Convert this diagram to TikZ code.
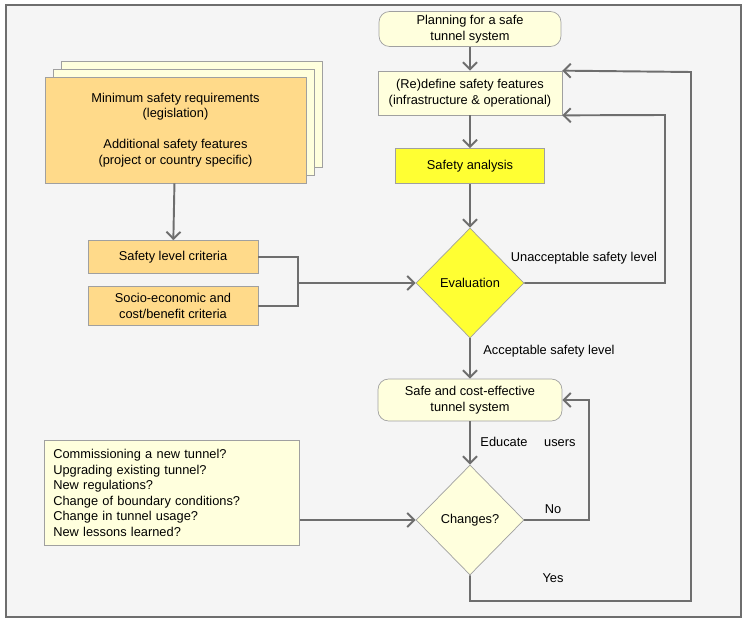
\documentclass[tikz,border=0pt]{standalone}
\usepackage{fontspec}
\setmainfont{Liberation Sans}
\usetikzlibrary{shapes.geometric,arrows.meta}
\definecolor{paleyel}{HTML}{FFFFDD}
\definecolor{brightyel}{HTML}{FFFF33}
\definecolor{softorange}{HTML}{FFDA8A}
\definecolor{edgegray}{HTML}{A0A0A0}
\definecolor{linegray}{HTML}{6E6E6E}
\tikzset{
  box/.style={draw=edgegray, fill=#1, inner sep=0pt, align=center,
    font=\fontsize{7.3}{8.8}\selectfont},
  decide/.style={draw=edgegray, fill=#1, diamond, aspect=1, inner sep=0pt,
    minimum width=2.16cm, minimum height=2.2cm, font=\fontsize{7.3}{8.8}\selectfont},
  flow/.style={draw=linegray, line width=1.1pt, -{Straight Barb[length=4pt,width=8pt]}},
  link/.style={draw=linegray, line width=1.1pt},
  lbl/.style={font=\fontsize{7.3}{8.8}\selectfont}
}
\begin{document}
\begin{tikzpicture}[x=0.02cm,y=-0.02cm]
\useasboundingbox (0,0) rectangle (745,628);
\draw[linegray, fill=black!4, line width=0.8pt] (6,5) rectangle (741,617);
% right column
\node[box=paleyel, rounded corners=6pt, minimum width=3.64cm, minimum height=0.7cm] (plan) at (470,29) {Planning for a safe\\tunnel system};
\node[box=paleyel, minimum width=3.68cm, minimum height=0.88cm] (redef) at (470,93) {(Re)define safety features\\(infrastructure \& operational)};
\node[box=brightyel, minimum width=2.98cm, minimum height=0.7cm] (anal) at (470,166) {Safety analysis};
\node[decide=brightyel] (eval) at (470,283) {Evaluation};
\node[box=paleyel, rounded corners=6pt, minimum width=3.68cm, minimum height=0.84cm] (safe) at (470,400) {Safe and cost-effective\\tunnel system};
\node[decide=paleyel] (chg) at (470,520) {Changes?};
% left column
\foreach \d in {2,1}
  \draw[edgegray, fill=paleyel] (45+8*\d,77-8*\d) rectangle (306+8*\d,183-8*\d);
\node[box=softorange, minimum width=5.22cm, minimum height=2.12cm] (reqs) at (175.5,130) {Minimum safety requirements\\(legislation)\\[8.8pt]Additional safety features\\(project or country specific)};
\node[box=softorange, minimum width=3.4cm, minimum height=0.66cm] (crit) at (173,257) {Safety level criteria};
\node[box=softorange, minimum width=3.4cm, minimum height=0.78cm] (cost) at (173,306) {Socio-economic and\\cost/benefit criteria};
\node[box=paleyel, align=left, inner sep=5pt, text width=5.1cm-10pt, minimum height=2.06cm] (trig) at (172,493) {Commissioning a new tunnel?\\Upgrading existing tunnel?\\New regulations?\\Change of boundary conditions?\\Change in tunnel usage?\\New lessons learned?};
\coordinate (merge) at (298,283);
\coordinate (inR) at (665,115);
\coordinate (outR) at (691,72);
\coordinate (noR) at (589,400);
\coordinate (yesB) at (470,601);
% connectors
\path[flow] (plan) -- (redef);
\path[flow] (redef) -- (anal);
\path[flow] (anal) -- (eval);
\path[flow] (eval) -- (safe);
\path[flow] (safe) -- (chg);
\path[flow] (reqs) -- (crit);
\path[link] (crit.east) -| (merge) |- (cost.east);
\path[flow] (merge) -- (eval.west);
\path[flow] (eval.east) -| (inR) -- (redef.south east);
\path[flow] (chg.east) -| (noR) -- (safe.east);
\path[flow] (chg.south) -- (yesB) -| (outR) -- (redef.north east);
\path[flow] (trig.east |- chg) -- (chg.west);
% labels
\node[lbl] (unacc) at (584,258) {Unacceptable safety level};
\node[lbl] (acc) at (549,351) {Acceptable safety level};
\node[lbl] (edu) at (528,442) {Educate\hspace{1.3em}users};
\node[lbl] (no) at (553,509) {No};
\node[lbl] (yes) at (553,578) {Yes};
\end{tikzpicture}
\end{document}
